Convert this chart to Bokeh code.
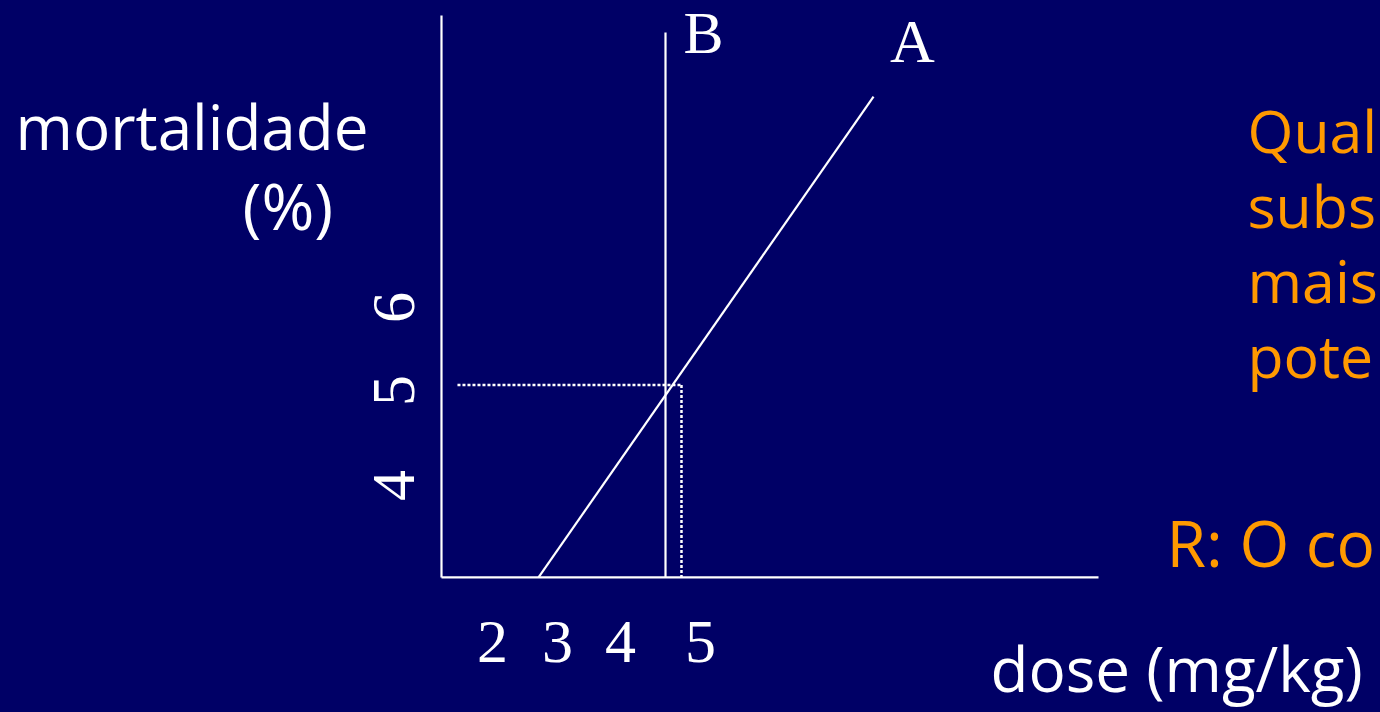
import math
from bokeh.plotting import figure
from bokeh.models import Range1d, Label, ColumnDataSource
from bokeh.core.properties import value
from bokeh.embed import file_html
from bokeh.resources import INLINE

# ---------------- data (x: dose in mg/kg, y: mortality in probit units) ----------------
dose_tick_labels = ["2", "3", "4", "5"]
dose_tick_at = [2.025, 2.969, 3.884, 5.045]

probit_tick_labels = ["4", "5", "6"]
probit_tick_at = [3.852, 4.937, 5.885]

origin_dose = 1.284
origin_probit = 2.802
dose_axis_end = 10.825
probit_axis_end = 9.221

curve_names = ["A", "B"]
curve_A_dose = [2.693, 7.558]
curve_A_probit = [2.802, 8.295]
curve_B_dose = [4.537, 4.537]
curve_B_probit = [2.802, 9.026]

dl50_dose = 4.769
dl50_probit = 5.0
dl50_guide_start = 1.516

question_lines = ["Qual", "subs", "mais", "pote"]
answer_text = "R: O co"
x_title = "dose (mg/kg)"
y_title_lines = ["mortalidade", "(%)"]

# ---------------- style ----------------
BG = "#000066"
WHITE = "#FFFFFF"
ORANGE = "#FF9900"
SERIF = value("Liberation Serif")
SANS = "Open Sans"
LW = 2.2

W, H = 1380, 712
p = figure(width=W, height=H, output_backend="svg", toolbar_location=None,
           x_range=Range1d(-5.12, 14.92), y_range=Range1d(1.259, 9.392),
           x_axis_type=None, y_axis_type=None, min_border=0,
           background_fill_color=BG, border_fill_color=BG,
           outline_line_color=None)
p.grid.visible = False

# axes drawn as lines
p.line([origin_dose, dose_axis_end], [origin_probit, origin_probit],
       line_color=WHITE, line_width=LW)
p.line([origin_dose, origin_dose], [origin_probit, probit_axis_end],
       line_color=WHITE, line_width=LW)

# curves
p.line(curve_A_dose, curve_A_probit, line_color=WHITE, line_width=LW)
p.line(curve_B_dose, curve_B_probit, line_color=WHITE, line_width=LW)

# DL50 dotted guides
p.line([dl50_guide_start, dl50_dose], [dl50_probit, dl50_probit],
       line_color=WHITE, line_width=2.5, line_dash="3 2")
p.line([dl50_dose, dl50_dose], [dl50_probit, origin_probit],
       line_color=WHITE, line_width=2.5, line_dash="3 2")

# curve names
p.text(x=[curve_A_dose[1] + 0.566], y=[curve_A_probit[1] + 0.63], text=[curve_names[0]],
       text_color=WHITE, text_font=SERIF, text_font_size="62px",
       text_align="center", text_baseline="alphabetic")
p.text(x=[curve_B_dose[1] + 0.552], y=[curve_B_probit[1] - 0.005], text=[curve_names[1]],
       text_color=WHITE, text_font=SERIF, text_font_size="60px",
       text_align="center", text_baseline="alphabetic")

# tick labels
xt = ColumnDataSource(dict(x=dose_tick_at, y=[2.059] * len(dose_tick_at), t=dose_tick_labels))
p.text(x="x", y="y", text="t", source=xt, text_color=WHITE, text_font=SERIF,
       text_font_size="62px", text_align="center", text_baseline="alphabetic")

yt = ColumnDataSource(dict(x=[0.59] * len(probit_tick_at), y=probit_tick_at, t=probit_tick_labels))
p.text(x="x", y="y", text="t", source=yt, text_color=WHITE, text_font=SERIF,
       text_font_size="62px", text_align="center", text_baseline="alphabetic",
       angle=math.pi / 2)

# titles (screen units: x from left, y from bottom of canvas)
def lab(txt, x, y, size, color):
    p.add_layout(Label(x=x, y=y, x_units="screen", y_units="screen", text=txt,
                       text_color=color, text_font=SANS, text_font_size=size,
                       text_align="left", text_baseline="alphabetic"))

lab(y_title_lines[0], 15, 587, "62px", WHITE)
lab(y_title_lines[1], 242, 507, "64px", WHITE)
lab(x_title, 990, 45, "62px", WHITE)

for i, line in enumerate(question_lines):
    lab(line, 1247, 583 - 75 * i, "59px", ORANGE)
lab(answer_text, 1166, 170, "64px", ORANGE)

html = file_html(p, INLINE, title="dose-resposta")
html = html.replace("<head>", "<head><style>html,body{background:#000066;}</style>", 1)
open("out.html", "w").write(html)
